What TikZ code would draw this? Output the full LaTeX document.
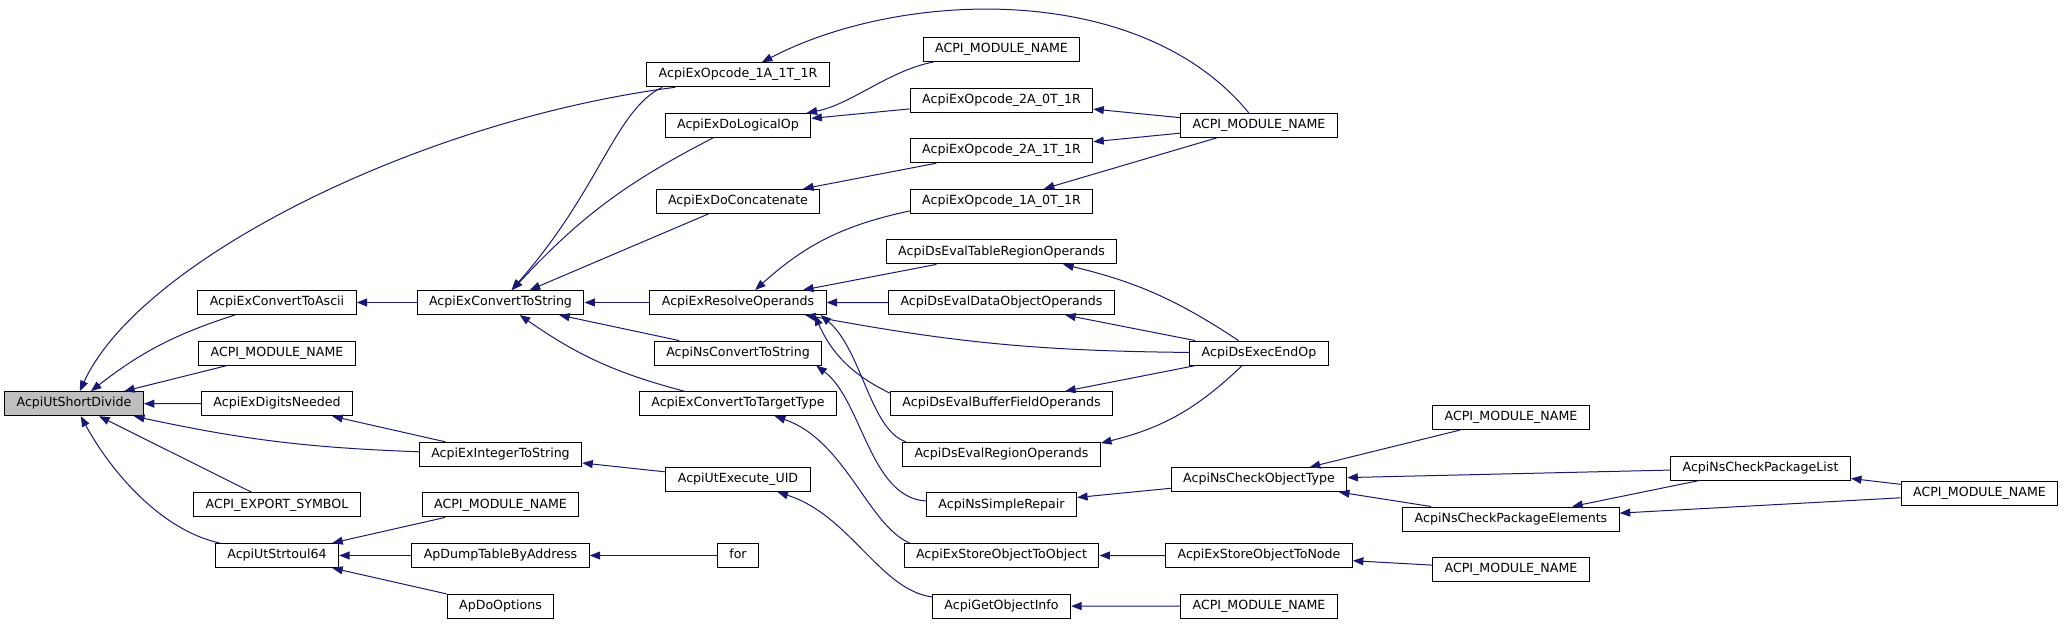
\documentclass[tikz,border=0pt]{standalone}
\usepackage{fontspec}
\setmainfont{DejaVu Sans}
\usepackage{tikz}
\usetikzlibrary{arrows.meta, positioning}
\definecolor{edgeblue}{HTML}{191970}
\definecolor{rootgray}{HTML}{BFBFBF}
\tikzstyle{func} = [rectangle, draw=black, line width=1pt, fill=white, minimum height=24pt, inner xsep=12pt, inner ysep=0pt, text height=9.2pt, text depth=2.9pt, font=\fontsize{12.6pt}{15pt}\selectfont]
\tikzstyle{root} = [func, fill=rootgray]
\tikzstyle{call} = [line width=1pt, draw=edgeblue, ->, >={Triangle[length=10.5pt, width=8pt]}]

\begin{document}
\begin{tikzpicture}[x=1pt, y=-1pt, node distance=25.6pt]
  \useasboundingbox[fill=white] (0,0) rectangle (2065,626);
  % callee
  \node[root] (sd) at (74,403.7) {AcpiUtShortDivide};
  % first callers
  \node[func] (ascii) at (277,302.5) {AcpiExConvertToAscii};
  \node[func, below=of ascii] (mn1) {ACPI\_MODULE\_NAME};
  \node[func, below=of mn1] (digits) {AcpiExDigitsNeeded};
  \node[func, below=76.2pt of digits] (export) {ACPI\_EXPORT\_SYMBOL};
  \node[func, below=of export] (strtoul) {AcpiUtStrtoul64};
  % second column
  \node[func] (tostring) at (500.5,302.5) {AcpiExConvertToString};
  \node[func, below=126.8pt of tostring] (inttostr) {AcpiExIntegerToString};
  \node[func, below=of inttostr] (mn2) {ACPI\_MODULE\_NAME};
  \node[func, below=of mn2] (apdump) {ApDumpTableByAddress};
  \node[func, below=of apdump] (apdo) {ApDoOptions};
  % third column
  \node[func] (op1a1t) at (738,74.8) {AcpiExOpcode\_1A\_1T\_1R};
  \node[func, below=of op1a1t] (logical) {AcpiExDoLogicalOp};
  \node[func, below=50.9pt of logical] (concat) {AcpiExDoConcatenate};
  \node[func, below=76.2pt of concat] (resolve) {AcpiExResolveOperands};
  \node[func, below=of resolve] (nstostr) {AcpiNsConvertToString};
  \node[func, below=of nstostr] (target) {AcpiExConvertToTargetType};
  \node[func, below=50.9pt of target] (execuid) {AcpiUtExecute\_UID};
  \node[func, below=50.9pt of execuid] (loopfor) {for};
  % fourth column
  \node[func] (mn3) at (1001.5,49.5) {ACPI\_MODULE\_NAME};
  \node[func, below=of mn3] (op2a0t) {AcpiExOpcode\_2A\_0T\_1R};
  \node[func, below=of op2a0t] (op2a1t) {AcpiExOpcode\_2A\_1T\_1R};
  \node[func, below=of op2a1t] (op1a0t) {AcpiExOpcode\_1A\_0T\_1R};
  \node[func, below=of op1a0t] (tablereg) {AcpiDsEvalTableRegionOperands};
  \node[func, below=of tablereg] (dataobj) {AcpiDsEvalDataObjectOperands};
  \node[func, below=76.2pt of dataobj] (bufffield) {AcpiDsEvalBufferFieldOperands};
  \node[func, below=of bufffield] (region) {AcpiDsEvalRegionOperands};
  \node[func, below=of region] (simplerep) {AcpiNsSimpleRepair};
  \node[func, below=of simplerep] (storeobj) {AcpiExStoreObjectToObject};
  \node[func, below=of storeobj] (getinfo) {AcpiGetObjectInfo};
  % fifth column
  \node[func] (mn4) at (1259,125.4) {ACPI\_MODULE\_NAME};
  \node[func, below=202.7pt of mn4] (endop) {AcpiDsExecEndOp};
  \node[func, below=101.5pt of endop] (checktype) {AcpiNsCheckObjectType};
  \node[func, below=50.9pt of checktype] (storenode) {AcpiExStoreObjectToNode};
  \node[func, below=of storenode] (mn5) {ACPI\_MODULE\_NAME};
  % right part
  \node[func] (mn6) at (1511,417.5) {ACPI\_MODULE\_NAME};
  \node[func, below=76.5pt of mn6] (pkgelem) {AcpiNsCheckPackageElements};
  \node[func, below=25.5pt of pkgelem] (mn7) {ACPI\_MODULE\_NAME};
  \node[func] (pkglist) at (1760.5,468) {AcpiNsCheckPackageList};
  \node[func] (mn8) at (1979.5,493.5) {ACPI\_MODULE\_NAME};

  % calls into AcpiUtShortDivide
  \draw[call] ([xshift=29pt]op1a1t.south west) .. controls (420,120) and (140,260) .. (sd);
  \draw[call] (ascii) to[bend right=10] (sd);
  \draw[call] (mn1) -- (sd);
  \draw[call] (digits) -- (sd);
  \draw[call] (inttostr) to[bend left=5] (sd);
  \draw[call] (export) -- (sd);
  \draw[call] (strtoul) .. controls (160,530) and (110,470) .. (sd);

  \draw[call] (tostring) -- (ascii);
  \draw[call] (inttostr) -- (digits);
  \draw[call] ([xshift=16pt]op1a1t.south west) .. controls (615,110) and (600,190) .. (tostring);
  \draw[call] (logical) to[bend right=10] (tostring);
  \draw[call] (concat) -- (tostring);
  \draw[call] (resolve) -- (tostring);
  \draw[call] (nstostr) -- (tostring);
  \draw[call] (target) to[bend left=10] (tostring);
  \draw[call] (execuid) -- (inttostr);
  \draw[call] (mn2) -- (strtoul);
  \draw[call] (apdump) -- (strtoul);
  \draw[call] (apdo) -- (strtoul);
  \draw[call] (loopfor) -- (apdump);

  \draw[call] (mn3) .. controls (890,70) and (850,105) .. (logical);
  \draw[call] (op2a0t) -- (logical);
  \draw[call] (op2a1t) -- (concat);
  \draw[call] (op1a0t) to[bend right=15] (resolve);
  \draw[call] (tablereg) -- (resolve);
  \draw[call] (dataobj) -- (resolve);
  \draw[call] (bufffield) to[bend left=20] ([xshift=-12pt]resolve.south east);
  \draw[call] ([xshift=4pt]region.north west) .. controls (870,430) and (862,350) .. ([xshift=-6pt]resolve.south east);
  \draw[call] (simplerep) .. controls (870,498) and (862,400) .. ([xshift=-6pt]nstostr.south east);
  \draw[call] ([xshift=6pt]storeobj.north west) .. controls (868,525) and (845,440) .. (target);
  \draw[call] (getinfo) .. controls (880,590) and (850,515) .. (execuid);

  \draw[call] (mn4) -- (op2a0t);
  \draw[call] (mn4) -- (op2a1t);
  \draw[call] (mn4) -- (op1a0t);
  \draw[call] (mn4) .. controls (1140,-20) and (900,-10) .. (op1a1t);
  \draw[call] (endop) to[bend right=10] (tablereg);
  \draw[call] (endop) -- (dataobj);
  \draw[call] (endop) to[bend left=5] (resolve);
  \draw[call] (endop) -- (bufffield);
  \draw[call] (endop) to[bend left=15] (region);
  \draw[call] (checktype) -- (simplerep);
  \draw[call] (storenode) -- (storeobj);
  \draw[call] (mn5) -- (getinfo);

  \draw[call] (mn6) -- (checktype);
  \draw[call] (pkglist) -- (checktype);
  \draw[call] (pkgelem) -- (checktype);
  \draw[call] (mn7) -- (storenode);
  \draw[call] (pkglist) -- (pkgelem);
  \draw[call] (mn8) -- (pkglist);
  \draw[call] (mn8) -- (pkgelem);
\end{tikzpicture}
\end{document}
